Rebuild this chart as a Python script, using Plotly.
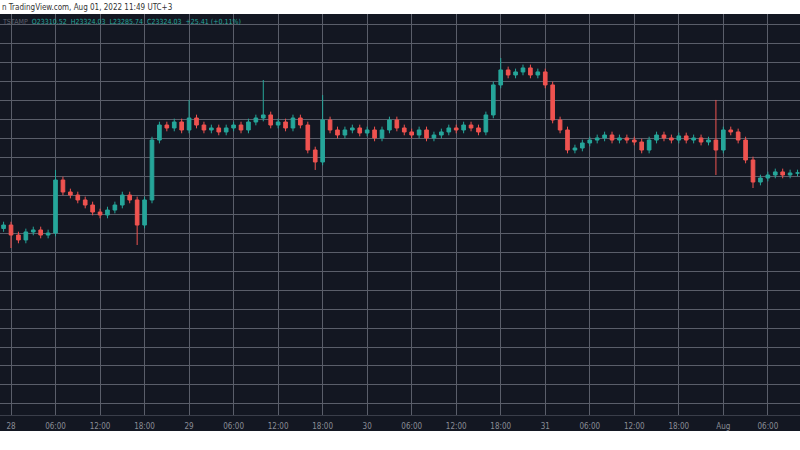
import pandas as pd
import plotly.graph_objects as go

# hourly closes, BTC/USD, starting 2022-07-27 23:00 (UTC+3)
start = "2022-07-27 23:00"
closes = [22776, 22671, 22619, 22703, 22724, 22671, 22692, 23250, 23124, 23092,
          23040, 22987, 22913, 22882, 22934, 22987, 23092, 23040, 22776, 23040,
          23671, 23829, 23798, 23861, 23777, 23903, 23829, 23777, 23798, 23756,
          23798, 23829, 23777, 23861, 23903, 23935, 23829, 23861, 23798, 23903,
          23829, 23566, 23440, 23882, 23777, 23724, 23777, 23798, 23745, 23777,
          23693, 23777, 23882, 23798, 23756, 23724, 23777, 23693, 23724, 23756,
          23798, 23777, 23829, 23798, 23756, 23935, 24251, 24409, 24356, 24388,
          24430, 24356, 24388, 24251, 23882, 23777, 23566, 23587, 23640, 23671,
          23693, 23724, 23671, 23693, 23671, 23650, 23566, 23671, 23724, 23693,
          23671, 23714, 23671, 23693, 23650, 23671, 23566, 23777, 23756, 23671,
          23461, 23229, 23271, 23303, 23335, 23303, 23324, 23324]
first_open = 22740
# notable wicks (index -> price)
high_spikes = {7: 23356, 25: 24093, 35: 24303, 43: 24145, 67: 24535, 96: 24093}
low_spikes = {1: 22534, 18: 22566, 42: 23356, 96: 23303, 101: 23166}
wick = 35

tick_labels = ["28", "06:00", "12:00", "18:00", "29", "06:00", "12:00", "18:00",
               "30", "06:00", "12:00", "18:00", "31", "06:00", "12:00", "18:00",
               "Aug", "06:00"]

times = pd.date_range(start, periods=len(closes), freq="h")
opens = [first_open] + closes[:-1]
highs, lows = [], []
for i, (o, c) in enumerate(zip(opens, closes)):
    highs.append(high_spikes.get(i, max(o, c) + wick))
    lows.append(low_spikes.get(i, min(o, c) - wick))

tickvals = pd.date_range("2022-07-28 00:00", periods=len(tick_labels), freq="6h")

fig = go.Figure(go.Candlestick(
    x=times, open=opens, high=highs, low=lows, close=closes,
    increasing=dict(line=dict(color="#26a69a", width=1), fillcolor="#26a69a"),
    decreasing=dict(line=dict(color="#ef5350", width=1), fillcolor="#ef5350"),
    whiskerwidth=0, showlegend=False,
))

fig.update_layout(
    width=800, height=450,
    paper_bgcolor="white", plot_bgcolor="#131722",
    margin=dict(l=0, r=0, t=14, b=35, pad=0, autoexpand=False),
    xaxis=dict(
        range=["2022-07-27 22:31", "2022-08-01 10:20"],
        rangeslider=dict(visible=False),
        tickvals=tickvals, ticktext=tick_labels,
        showgrid=True, gridcolor="#5a5e6a", gridwidth=1,
        tickfont=dict(family="DejaVu Sans Condensed, Liberation Sans Narrow", size=8, color="#8a8d96"),
        ticks="", ticklabelstandoff=3, zeroline=False,
        showline=True, linecolor="#3a3e4a",
    ),
    yaxis=dict(
        range=[20776, 24998], tick0=23292, dtick=200,
        showticklabels=False, showgrid=True, gridcolor="#5a5e6a", zeroline=False,
    ),
    font=dict(family="DejaVu Sans Condensed"),
)

# dark strip behind the time axis
fig.add_shape(type="rect", xref="paper", yref="paper", x0=0, x1=1, y0=-0.04, y1=0,
              fillcolor="#131722", line_width=0, layer="below")

fig.add_annotation(text="n TradingView.com, Aug 01, 2022 11:49 UTC+3", xref="paper", yref="paper",
                   x=0, y=1.0, xanchor="left", yanchor="bottom", showarrow=False,
                   font=dict(size=8, color="#333"), yshift=0)
fig.add_annotation(
    text="<span style='color:#5d606b'>TSTAMP</span>  O23310.52  H23324.03  L23285.74  C23324.03  +25.41 (+0.11%)",
    xref="paper", yref="paper", x=0, y=1.0, xanchor="left", yanchor="top", showarrow=False,
    font=dict(size=7, color="#26a69a"), yshift=-2)

fig.write_html("out.html", config={"displayModeBar": False},
               post_script="document.body.style.margin='0';")
